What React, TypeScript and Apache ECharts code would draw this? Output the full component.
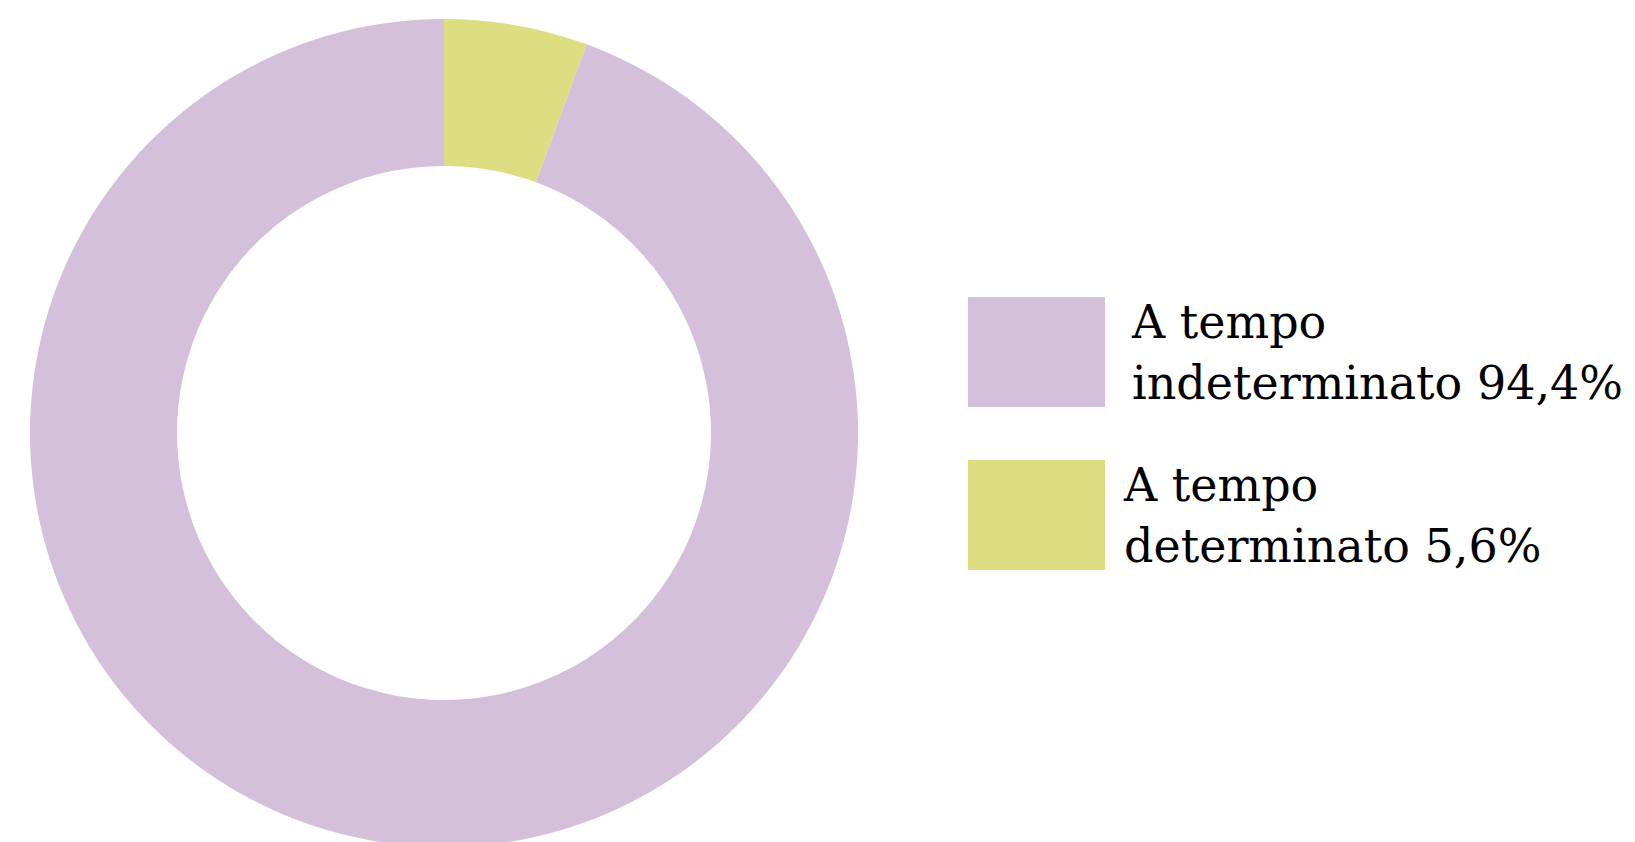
import React, { useEffect, useRef } from "react";
import * as echarts from "echarts";

const categories = ["A tempo indeterminato", "A tempo determinato"];
const values = [94.4, 5.6];
const colors = ["#D5C0DC", "#DDDE82"];
const legendLabels = ["A tempo\nindeterminato 94,4%", "A tempo\ndeterminato 5,6%"];

export default function App() {
  const ref = useRef<HTMLDivElement>(null);
  useEffect(() => {
    document.body.style.margin = "0";
    const chart = echarts.init(ref.current!, null, { renderer: "svg" });
    // pie draws clockwise from top: determinato first
    const pieData = [
      { name: categories[1], value: values[1], itemStyle: { color: colors[1] } },
      { name: categories[0], value: values[0], itemStyle: { color: colors[0] } },
    ];
    chart.setOption({
      animation: false,
      backgroundColor: "#ffffff",
      legend: {
        orient: "vertical",
        left: 963,
        top: 286,
        itemWidth: 137,
        itemHeight: 110,
        itemGap: 41,
        icon: "rect",
        selectedMode: false,
        data: [
          { name: categories[0], textStyle: { padding: [0, 0, 0, 22] } },
          { name: categories[1], textStyle: { padding: [0, 0, 0, 14] } },
        ],
        formatter: (name: string) => legendLabels[categories.indexOf(name)],
        textStyle: {
          fontFamily: "DejaVu Serif",
          fontSize: 46,
          lineHeight: 61,
          color: "#000000",
        },
      },
      series: [
        {
          type: "pie",
          center: [444, 433],
          radius: [267, 414],
          startAngle: 90,
          clockwise: true,
          label: { show: false },
          labelLine: { show: false },
          emphasis: { disabled: true },
          data: pieData,
        },
      ],
    });
    return () => chart.dispose();
  }, []);
  return <div ref={ref} style={{ width: 1635, height: 842 }} />;
}
